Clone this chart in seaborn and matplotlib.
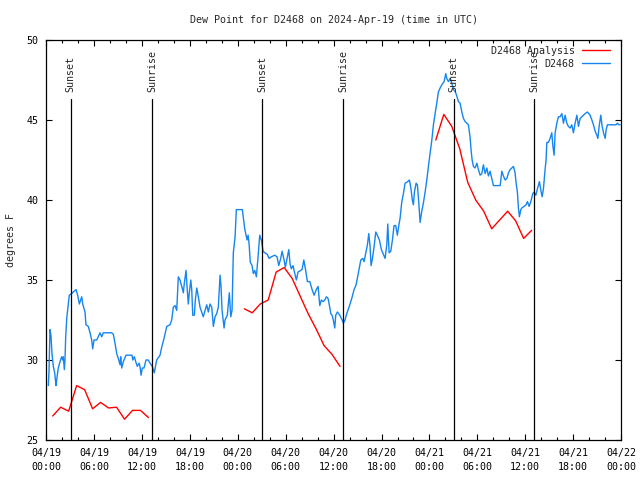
import pandas as pd
import matplotlib
matplotlib.use('Agg')
import matplotlib.pyplot as plt
import matplotlib.dates as mdates
from matplotlib.lines import Line2D
from matplotlib.ticker import MultipleLocator
import seaborn as sns

# --- data (hours after 2024-04-19 00:00 UTC, dew point in F) ---
START = pd.Timestamp('2024-04-19 00:00')

obs_hours = [
    0.25, 0.34, 0.46, 0.59, 0.71, 0.88, 1.05, 1.22, 1.30, 1.50, 1.72, 1.93, 2.06, 2.13, 2.26, 2.34,
    2.43, 2.56, 2.76, 2.88, 3.18, 3.38, 3.72, 3.93, 4.14, 4.31, 4.44, 4.56, 4.85, 4.97, 5.26, 5.48,
    5.69, 5.81, 5.98, 6.32, 6.73, 6.94, 7.14, 7.57, 8.20, 8.40, 8.61, 8.82, 9.02, 9.24, 9.32, 9.45,
    9.65, 9.99, 10.74, 10.83, 11.03, 11.20, 11.40, 11.62, 11.74, 11.87, 12.03, 12.24, 12.49, 12.78,
    13.00, 13.28, 13.53, 13.83, 14.25, 14.46, 14.75, 15.09, 15.50, 15.71, 15.91, 16.13, 16.34, 16.54,
    16.75, 16.97, 17.17, 17.29, 17.51, 17.63, 17.79, 17.92, 18.10, 18.22, 18.35, 18.55, 18.67, 18.85,
    19.05, 19.26, 19.47, 19.67, 19.89, 20.10, 20.30, 20.51, 20.73, 20.93, 21.14, 21.35, 21.55, 21.77,
    21.89, 22.02, 22.27, 22.39, 22.68, 22.93, 23.11, 23.27, 23.43, 23.65, 23.81, 24.56, 24.86, 25.15,
    25.28, 25.40, 25.56, 25.78, 25.94, 26.12, 26.32, 26.53, 26.74, 26.94, 27.16, 27.37, 27.69, 27.91,
    28.20, 28.62, 28.91, 29.12, 29.37, 29.54, 29.79, 29.95, 30.20, 30.38, 30.54, 30.70, 30.91, 31.13,
    31.33, 31.54, 32.04, 32.26, 32.46, 32.71, 33.01, 33.13, 33.30, 33.55, 33.83, 34.05, 34.26, 34.46,
    34.67, 34.89, 35.09, 35.30, 35.51, 35.64, 35.80, 35.96, 36.14, 36.26, 36.47, 36.77, 37.06, 37.22,
    37.43, 37.64, 37.93, 38.27, 38.56, 38.81, 38.97, 39.19, 39.40, 39.65, 39.81, 40.03, 40.23, 40.40,
    40.56, 40.69, 40.85, 41.07, 41.28, 41.48, 41.73, 41.98, 42.23, 42.44, 42.66, 42.78, 42.95, 43.16,
    43.36, 43.57, 43.78, 43.98, 44.16, 44.32, 44.54, 44.74, 44.95, 45.29, 45.49, 45.66, 45.86, 45.99,
    46.12, 46.33, 46.49, 46.67, 46.83, 47.04, 47.24, 47.46, 47.67, 47.87, 48.08, 48.30, 48.50, 48.71,
    48.92, 49.12, 49.34, 49.55, 49.84, 50.05, 50.17, 50.38, 50.59, 50.80, 51.00, 51.22, 51.43, 51.63,
    51.84, 52.06, 52.26, 52.47, 52.68, 52.88, 53.09, 53.22, 53.35, 53.51, 53.72, 53.94, 54.14, 54.35,
    54.56, 54.76, 54.98, 55.19, 55.39, 55.60, 55.81, 56.02, 56.86, 57.07, 57.27, 57.49, 57.70, 57.90,
    58.11, 58.53, 58.73, 58.86, 59.02, 59.15, 59.27, 59.45, 59.57, 59.86, 60.11, 60.28, 60.49, 60.70,
    60.95, 61.11, 61.33, 61.53, 61.78, 61.96, 62.12, 62.28, 62.49, 62.61, 62.71, 62.91, 63.12, 63.33,
    63.46, 63.62, 63.75, 63.96, 64.16, 64.37, 64.59, 64.79, 65.00, 65.21, 65.41, 65.63, 65.84, 66.04,
    66.25, 66.47, 66.67, 66.88, 67.29, 67.51, 67.79, 68.13, 68.35, 68.55, 68.76, 68.97, 69.10, 69.26,
    69.47, 69.64, 69.81, 70.02, 70.14, 70.30, 71.39, 71.55, 71.73, 71.89,
]
obs_dewpt = [
    28.4, 29.3, 31.9, 31.5, 30.4, 29.6, 29.2, 28.4, 28.75, 29.5, 29.9, 30.2, 30.0, 30.2, 29.4, 30.0,
    31.45, 32.6, 33.5, 34.05, 34.15, 34.25, 34.4, 34.05, 33.5, 33.75, 33.95, 33.5, 33.0, 32.2, 32.1, 31.7,
    31.25, 30.7, 31.25, 31.25, 31.7, 31.45, 31.7, 31.7, 31.7, 31.6, 31.05, 30.4, 30.1, 29.7, 30.2, 29.5,
    29.9, 30.3, 30.3, 30.0, 30.2, 29.9, 29.6, 29.8, 29.6, 29.05, 29.5, 29.5, 30.0, 30.0,
    29.8, 29.6, 29.2, 30.0, 30.3, 30.8, 31.35, 32.1, 32.2, 32.5, 33.3, 33.4, 33.1, 35.2,
    35.0, 34.6, 34.2, 34.8, 35.6, 34.6, 33.5, 34.2, 35.0, 34.4, 32.8, 32.8, 33.75, 34.5,
    33.95, 33.3, 33.0, 32.7, 33.1, 33.45, 33.0, 33.5, 33.3, 32.1, 32.7, 32.9, 33.3, 35.3,
    34.6, 33.1, 32.0, 32.5, 32.8, 34.2, 32.7, 33.1, 36.7, 37.7, 39.4, 39.4, 38.2, 37.5,
    37.8, 37.3, 36.1, 35.9, 35.4, 35.6, 35.2, 36.45, 37.8, 37.5, 36.8, 36.7, 36.6, 36.35,
    36.45, 36.55, 36.45, 35.9, 36.35, 36.8, 36.25, 35.8, 36.45, 36.9, 36.0, 35.7, 35.9, 35.4,
    35.0, 35.5, 35.65, 36.25, 35.7, 34.9, 34.9, 34.7, 34.4, 34.05, 34.4, 34.6, 33.4, 33.75,
    33.65, 33.75, 33.95, 33.85, 33.3, 32.9, 32.8, 32.5, 32.0, 32.8, 33.0, 32.8, 32.5, 32.3,
    32.5, 32.9, 33.3, 33.85, 34.4, 34.7, 35.1, 35.7, 36.25, 36.35, 36.15, 36.7, 37.2, 37.9,
    37.1, 35.9, 36.3, 37.1, 38.0, 37.8, 37.5, 36.9, 36.6, 36.35, 37.2, 38.5, 36.7, 36.8,
    37.5, 38.4, 38.4, 37.8, 38.4, 38.85, 39.9, 40.4, 41.05, 41.15, 41.25, 40.8, 40.0, 39.7,
    40.5, 41.05, 40.95, 39.8, 38.6, 39.3, 39.8, 40.5, 41.25, 42.1, 42.9, 43.75, 44.7, 45.4,
    46.05, 46.75, 47.0, 47.2, 47.4, 47.9, 47.6, 47.4, 47.6, 47.3, 46.9, 46.8, 46.5, 46.15,
    46.05, 45.5, 45.1, 44.9, 44.8, 44.7, 43.95, 43.1, 42.5, 42.1, 42.0, 42.3, 41.9, 41.55,
    41.65, 42.2, 41.65, 42.0, 41.5, 41.8, 41.35, 40.9, 40.9, 41.8, 41.5, 41.25, 41.35, 41.7,
    41.9, 42.1, 41.7, 41.05, 40.5, 39.5, 38.95, 39.4, 39.5, 39.6, 39.7, 39.9, 39.6, 39.9,
    40.4, 40.5, 40.3, 40.7, 41.15, 40.6, 40.2, 40.7, 41.9, 42.5, 43.6, 43.6, 43.85, 44.2,
    43.4, 42.8, 44.2, 44.8, 45.2, 45.2, 45.4, 44.8, 45.3, 44.8, 44.6, 44.5, 44.7, 44.2,
    44.8, 45.3, 44.6, 45.1, 45.3, 45.4, 45.5, 45.3, 45.0, 44.7, 44.3, 44.05, 43.85, 44.6,
    45.3, 44.6, 44.2, 43.85, 44.4, 44.7, 44.7, 44.8, 44.7, 44.7,
]

# analysis: three separate hourly runs
ana_hours_1 = [0.8, 1.8, 2.8, 3.8, 4.8, 5.8, 6.8, 7.8, 8.8, 9.8, 10.8, 11.8, 12.8]
ana_dewpt_1 = [26.5, 27.05, 26.8, 28.4, 28.15, 26.95, 27.35, 27.0, 27.05, 26.3, 26.85, 26.85, 26.4]
ana_hours_2 = [24.8, 25.8, 26.8, 27.8, 28.8, 29.8, 30.8, 31.8, 32.8, 33.8, 34.8, 35.8, 36.8]
ana_dewpt_2 = [33.2, 32.95, 33.5, 33.75, 35.5, 35.78, 35.1, 34.0, 32.9, 31.95, 30.9, 30.35, 29.6]
ana_hours_3 = [48.8, 49.8, 50.8, 51.8, 52.8, 53.8, 54.8, 55.8, 56.8, 57.8, 58.8, 59.8, 60.8]
ana_dewpt_3 = [43.75, 45.35, 44.6, 43.2, 41.1, 40.0, 39.3, 38.2, 38.75, 39.3, 38.7, 37.6, 38.1]

sun_hours = [3.04, 13.29, 27.04, 37.16, 51.04, 61.16]
sun_labels = ['Sunset', 'Sunrise', 'Sunset', 'Sunrise', 'Sunset', 'Sunrise']

# --- build frames ---
obs = pd.DataFrame({'time': START + pd.to_timedelta(obs_hours, unit='h'), 'dewpt': obs_dewpt})
runs = []
for i, (hh, vv) in enumerate([(ana_hours_1, ana_dewpt_1), (ana_hours_2, ana_dewpt_2),
                              (ana_hours_3, ana_dewpt_3)]):
    runs.append(pd.DataFrame({'time': START + pd.to_timedelta(hh, unit='h'), 'dewpt': vv, 'run': i}))
ana = pd.concat(runs, ignore_index=True)

RED = '#ff0000'
BLUE = '#1585f0'
FS = 7.2

sns.set_style('ticks')
plt.rcParams['font.family'] = ['DejaVu Sans Mono']

fig = plt.figure(figsize=(6.4, 4.8), dpi=100)
ax = fig.add_axes([46.3 / 640, 40 / 480, 574.7 / 640, 400 / 480])

sns.lineplot(data=ana, x='time', y='dewpt', units='run', estimator=None,
             color=RED, lw=1.0, ax=ax)
sns.lineplot(data=obs, x='time', y='dewpt', color=BLUE, lw=1.0, ax=ax)

# sunrise / sunset markers
for h, lab in zip(sun_hours, sun_labels):
    t = START + pd.Timedelta(hours=h)
    ax.axvline(t, ymin=0, ymax=0.8525, color='black', lw=0.9)
    ax.text(t, 0.87, lab, transform=ax.get_xaxis_transform(), rotation=90,
            ha='center', va='bottom', fontsize=FS)

ax.set_xlim(START, START + pd.Timedelta(hours=72))
ax.set_ylim(25, 50)
ax.xaxis.set_major_locator(mdates.HourLocator(byhour=[0, 6, 12, 18]))
ax.xaxis.set_minor_locator(mdates.HourLocator(byhour=list(range(0, 24, 2))))
ax.xaxis.set_major_formatter(mdates.DateFormatter('%m/%d\n%H:%M'))
ax.yaxis.set_major_locator(MultipleLocator(5))

ax.tick_params(which='both', direction='in', top=True, right=True, colors='black',
               labelsize=FS, width=0.8)
ax.tick_params(which='major', length=4.5)
ax.tick_params(which='minor', length=2.5)
ax.tick_params(axis='x', pad=6)
ax.tick_params(axis='y', pad=5.5)
for s in ax.spines.values():
    s.set_color('black')
    s.set_linewidth(0.9)

plt.setp(ax.get_xticklabels(), linespacing=1.4)

ax.set_xlabel('')
ax.set_ylabel('degrees F', fontsize=FS, labelpad=8)
ax.set_title('Dew Point for D2468 on 2024-Apr-19 (time in UTC)', fontsize=FS, pad=12.5)

handles = [Line2D([], [], color=RED, lw=1.0), Line2D([], [], color=BLUE, lw=1.0)]
ax.legend(handles, ['D2468 Analysis', 'D2468'], loc='upper right', frameon=False,
          markerfirst=False, fontsize=FS, handlelength=2.85, handletextpad=0.7,
          labelspacing=0.3, borderpad=0, borderaxespad=0,
          bbox_to_anchor=((610 - 46.3) / 574.7, (440 - 46) / 400))

fig.savefig('out.png', dpi=100)
